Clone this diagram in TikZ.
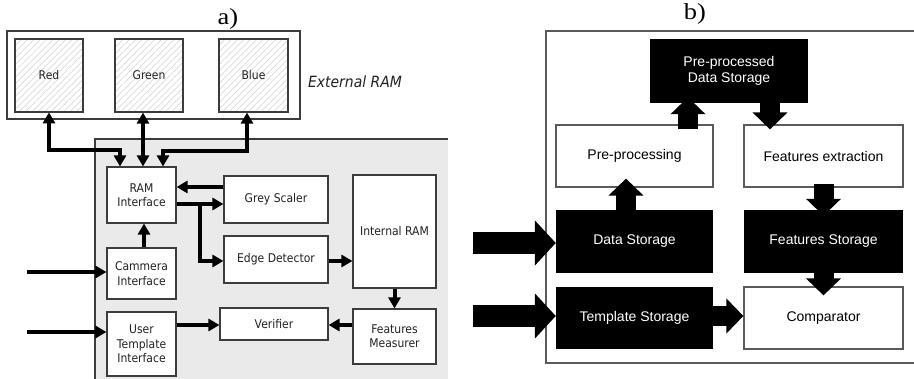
\documentclass[tikz,border=0pt]{standalone}
\usepackage{fontspec}
\setmainfont{Liberation Sans}
\newfontfamily\tahoma[FakeStretch=0.9]{DejaVu Sans}
\newfontfamily\labelfont[FakeStretch=1.15]{Liberation Serif}
\usetikzlibrary{arrows.meta,calc,patterns.meta}

\definecolor{panelgrey}{HTML}{EAEAEA}
\definecolor{edgegrey}{HTML}{3C3C3C}
\definecolor{inkgrey}{HTML}{222222}
\definecolor{frameb}{HTML}{5A5A5A}

\tikzset{
  abox/.style={draw=edgegrey, line width=1.1pt, fill=white, inner sep=0pt,
    align=center, text=inkgrey, font=\tahoma\fontsize{12}{14.3}\selectfont},
  memcell/.style={draw=edgegrey, line width=1.1pt, inner sep=0pt,
    align=center, text=inkgrey, font=\tahoma\fontsize{12}{14.3}\selectfont,
    pattern={Lines[angle=45,distance=4.5pt,line width=0.7pt]},
    pattern color=black!15},
  arr/.style={line width=4pt, -{Triangle[length=11pt,width=12pt]}},
  dbl/.style={line width=4pt,
    {Triangle[length=11pt,width=12pt]}-{Triangle[length=11pt,width=12pt]}},
  wbox/.style={draw=frameb, line width=1.2pt, fill=white, inner sep=0pt,
    align=center, font=\fontsize{14}{16.5}\selectfont},
  kbox/.style={fill=black, text=white, inner sep=0pt,
    align=center, font=\fontsize{14}{16.5}\selectfont},
  barr/.style={line width=20pt, -{Triangle[length=17pt,width=34pt]}},
  bin/.style={line width=22pt, -{Triangle[length=21pt,width=44pt]}},
  caption/.style={font=\labelfont\fontsize{23}{23}\selectfont, inner sep=0pt, anchor=base}
}

\begin{document}
\begin{tikzpicture}[x=1pt,y=-1pt]
\useasboundingbox (0,0) rectangle (914,379);

% ---------------- a) ----------------
\node[caption] (capa) at (228,25) {a)};

% external memory
\node[draw=edgegrey, line width=1.1pt, minimum width=293pt, minimum height=88pt,
  inner sep=0pt] (ext) at (153.5,75) {};
\node[memcell, minimum width=68pt, minimum height=73pt] (red) at (49,75.5) {Red};
\node[memcell, minimum width=68pt, minimum height=73pt] (green) at (149,75.5) {Green};
\node[memcell, minimum width=69pt, minimum height=73pt] (blue) at (253.5,75.5) {Blue};
\node[font=\tahoma\itshape\fontsize{15.5}{18}\selectfont, text=inkgrey, inner sep=0pt]
  (extlbl) at (355,82) {External RAM};

% processing chip
\fill[panelgrey] (95,139) rectangle (448,380);
\draw[edgegrey, line width=1.2pt] (448,139) -- (95,139) -- (95,380);

\node[abox, minimum width=69pt, minimum height=56pt] (ram) at (141.5,195) {RAM\\Interface};
\node[abox, minimum width=104pt, minimum height=47pt] (gs) at (276,199.5) {Grey Scaler};
\node[abox, minimum width=104pt, minimum height=47pt] (ed) at (276,259.5) {Edge Detector};
\node[abox, minimum width=83pt, minimum height=113pt] (ir) at (394.5,231.5) {Internal RAM};
\node[abox, minimum width=69pt, minimum height=51pt] (cam) at (141.5,273.5) {Cammera\\Interface};
\node[abox, minimum width=69pt, minimum height=64pt] (ut) at (141.5,344) {User\\Template\\Interface};
\node[abox, minimum width=108pt, minimum height=32pt] (ver) at (274,324) {Verifier};
\node[abox, minimum width=83pt, minimum height=55pt] (fm) at (394.5,336.5) {Features\\Measurer};

% memory buses
\draw[dbl] (red.south) -- ++(0,38) -| ($(ram.north)+(-21.5,0)$);
\draw[dbl] ($(green.south)+(-6,0)$) -- ($(ram.north)+(1.5,0)$);
\draw[dbl] ($(blue.south)+(-6.5,0)$) -- ++(0,38) -| ($(ram.north)+(21.5,0)$);

% internal data paths
\coordinate (fork) at (200,204);
\draw[arr] ($(gs.west)+(0,-12.5)$) -- ($(ram.east)+(0,-8)$);
\draw[arr] ($(ram.east)+(0,9)$) -- ($(gs.west)+(0,4.5)$);
\draw[arr] (fork) |- ($(ed.west)+(0,1.5)$);
\draw[arr] ($(cam.north)+(2.5,0)$) -- ($(ram.south)+(2.5,0)$);
\draw[arr] ($(ed.east)+(0,1.5)$) -- ($(ir.west)+(0,29.5)$);
\draw[arr] (ir.south) -- (fm.north);
\draw[arr] ($(fm.west)+(0,-11.5)$) -- ($(ver.east)+(0,1)$);
\draw[arr] ($(ut.east)+(0,-19)$) -- ($(ver.west)+(0,1)$);

% external inputs
\coordinate (incam) at (27,272);
\coordinate (inut) at (27,332);
\draw[arr] (incam) -- (incam -| cam.west);
\draw[arr] (inut) -- (inut -| ut.west);

% ---------------- b) ----------------
\node[caption] (capb) at (695,20) {b)};
\draw[frameb, line width=1.3pt] (915,31) -- (546,31) -- (546,363) -- (915,363);

\node[kbox, minimum width=158pt, minimum height=64pt] (ppds) at (729,71) {Pre-processed\\Data Storage};
\node[wbox, minimum width=157pt, minimum height=62pt] (pre) at (634.5,156) {Pre-processing};
\node[wbox, minimum width=159pt, minimum height=62pt] (fe) at (823.5,156) {Features extraction};
\node[kbox, minimum width=157pt, minimum height=63pt] (ds) at (634.5,241.5) {Data Storage};
\node[kbox, minimum width=159pt, minimum height=63pt] (fs) at (823.5,241.5) {Features Storage};
\node[kbox, minimum width=157pt, minimum height=62pt] (ts) at (634.5,318) {Template Storage};
\node[wbox, minimum width=159pt, minimum height=62pt] (cmp) at (823.5,318) {Comparator};

\draw[barr] ($(pre.north)+(53.5,5)$) -- ($(ppds.south)+(-41,-6)$);
\draw[barr] ($(ppds.south)+(41,-3)$) -- ($(fe.north)+(-53.5,5)$);
\draw[barr] ($(ds.north)+(-8.5,3)$) -- ($(pre.south)+(-8.5,-9)$);
\draw[barr] ($(fe.south)+(0,-4)$) -- ($(fs.north)+(0,6)$);
\draw[barr] ($(fs.south)+(0,-3)$) -- ($(cmp.north)+(0,9)$);
\draw[barr] ($(ts.east)+(-2,-2)$) -- ($(cmp.west)+(0,-2)$);

\coordinate (inds) at (473,243);
\coordinate (ints) at (473,316);
\draw[bin] (inds) -- (inds -| ds.west);
\draw[bin] (ints) -- (ints -| ts.west);
\end{tikzpicture}
\end{document}
